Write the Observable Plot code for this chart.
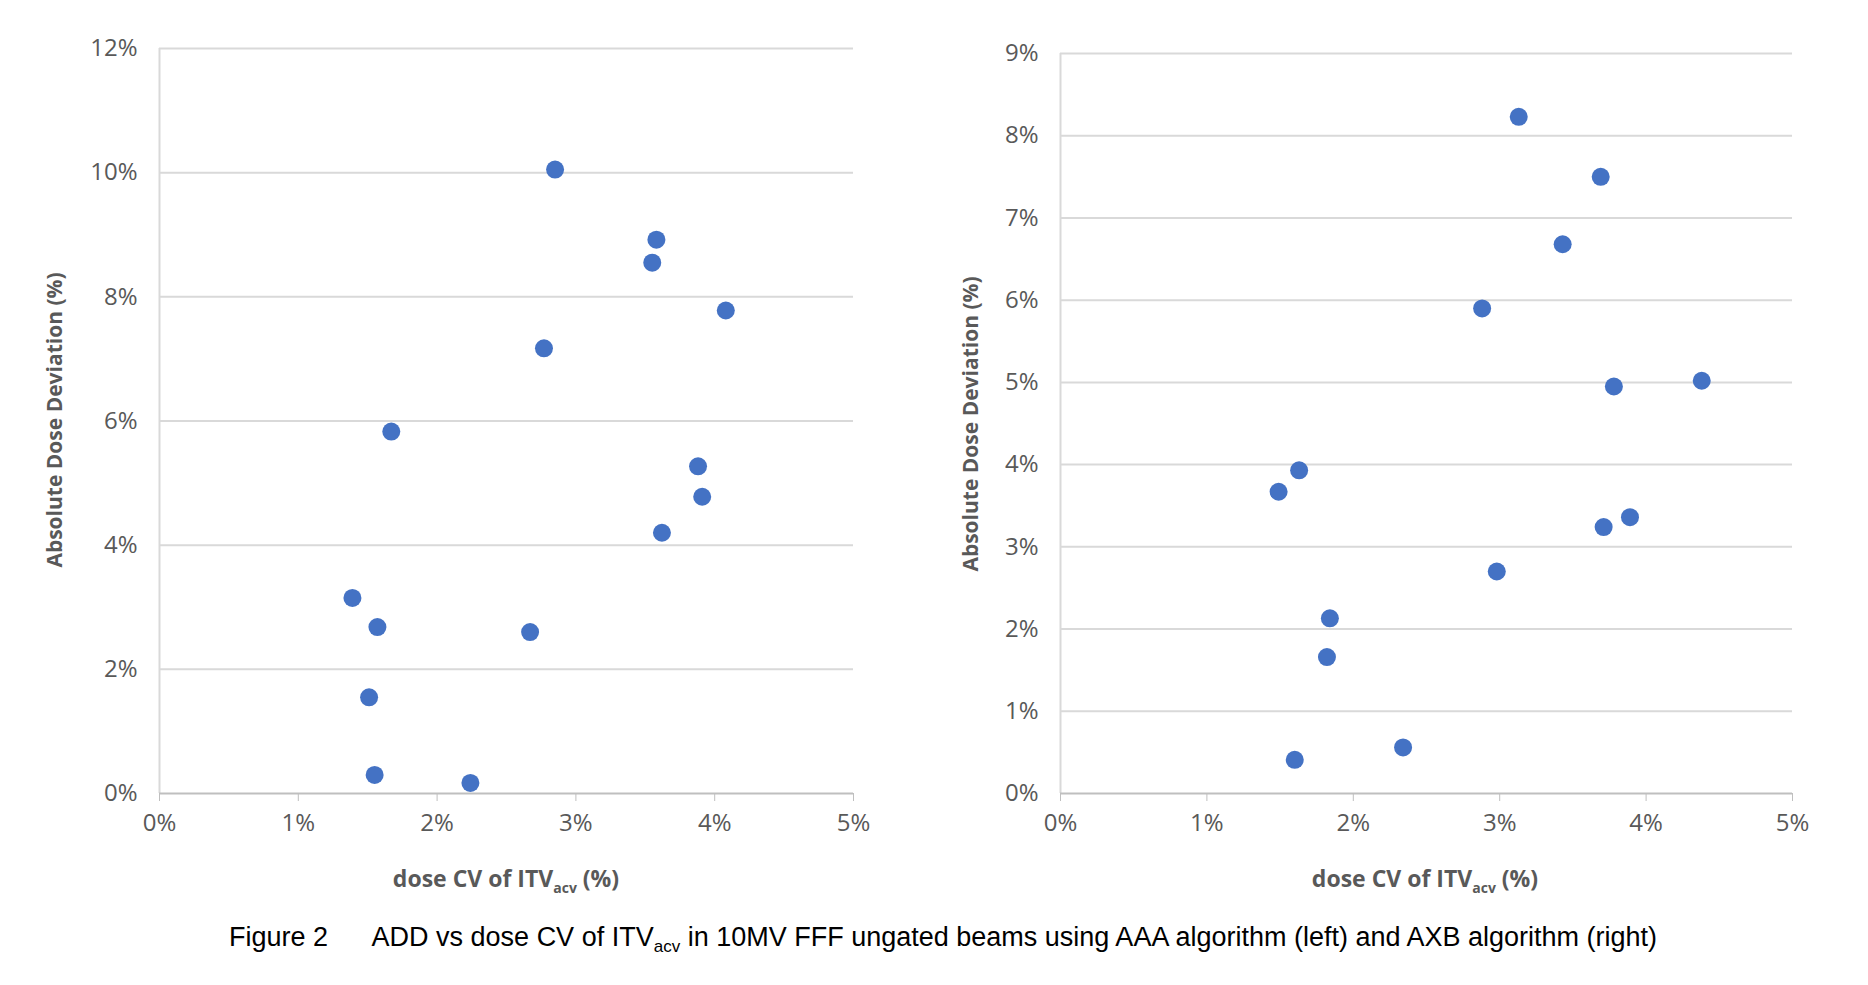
<!DOCTYPE html>
<html><head><meta charset="utf-8">
<script src="https://cdn.jsdelivr.net/npm/d3@7"></script>
<script src="https://cdn.jsdelivr.net/npm/@observablehq/plot@0.6"></script>
<style>
body{margin:0;background:#fff;width:1868px;height:985px;position:relative;overflow:hidden;font-family:"Liberation Sans",Arial,sans-serif}
.p{position:absolute;top:0}
.yl{position:absolute;font:bold 21px "Open Sans",sans-serif;color:#595959;transform:translate(-50%,-50%) rotate(-90deg);white-space:nowrap}
.xl{position:absolute;font:bold 23px "Open Sans",sans-serif;color:#595959;transform:translateX(-50%);white-space:nowrap}
.cap{position:absolute;font:27px "Liberation Sans",Arial,sans-serif;color:#000;white-space:pre}
</style></head><body>
<div id="L" class="p" style="left:0"></div>
<div id="R" class="p" style="left:900px"></div>
<div class="yl" style="left:54px;top:420px">Absolute Dose Deviation (%)</div>
<div class="yl" style="left:970px;top:424px">Absolute Dose Deviation (%)</div>
<div class="xl" style="left:506px;top:862px">dose CV of ITV<sub style="font-size:14px">acv</sub> (%)</div>
<div class="xl" style="left:1425px;top:862px">dose CV of ITV<sub style="font-size:14px">acv</sub> (%)</div>
<div class="cap" style="left:229px;top:922px">Figure 2      ADD vs dose CV of ITV<sub style="font-size:17px">acv</sub> in 10MV FFF ungated beams using AAA algorithm (left) and AXB algorithm (right)</div>
<script>
const leftX = [2.85,3.58,3.55,4.08,2.77,1.67,3.88,3.91,3.62,1.39,1.57,2.67,1.51,1.55,2.24];
const leftY = [10.05,8.92,8.55,7.78,7.17,5.83,5.27,4.78,4.2,3.15,2.68,2.6,1.55,0.3,0.17];
const rightX = [3.13,3.69,3.43,2.88,3.78,4.38,1.63,1.49,3.89,3.71,2.98,1.84,1.82,2.34,1.6];
const rightY = [8.23,7.5,6.68,5.9,4.95,5.02,3.93,3.67,3.36,3.24,2.7,2.13,1.66,0.56,0.41];
const xTicks = [0,1,2,3,4,5];
const leftYTicks = [0,2,4,6,8,10,12];
const rightYTicks = [0,1,2,3,4,5,6,7,8,9];
const pct = d => d + "%";

function make(xs, ys, yTicks, ymax, opts){
  const data = xs.map((x,i)=>({x, y: ys[i]}));
  return Plot.plot({
    width: opts.width, height: 900,
    marginLeft: opts.ml, marginRight: opts.mr, marginTop: opts.mt, marginBottom: 107,
    style:{fontSize:"24px", fontFamily:"'Open Sans',sans-serif", color:"#595959"},
    x:{domain:[0,5], label:null},
    y:{domain:[0,ymax], label:null},
    marks:[
      Plot.gridY(yTicks.filter(d=>d>0), {stroke:"#d9d9d9", strokeOpacity:1, strokeWidth:2}),
      Plot.ruleX([0], {stroke:"#d9d9d9", strokeWidth:2}),
      Plot.ruleY([0], {stroke:"#bfbfbf", strokeWidth:2}),
      Plot.axisX(xTicks, {tickFormat:pct, tickSize:8, stroke:"#bfbfbf", fill:"#595959", tickPadding:12, label:null}),
      Plot.axisY(yTicks, {tickFormat:pct, tickSize:0, tickPadding:22, fill:"#595959", label:null}),
      Plot.dot(data, {x:"x", y:"y", r:9, fill:"#4472C4", stroke:"none"})
    ]
  });
}
document.getElementById("L").append(make(leftX,leftY,leftYTicks,12,{width:900,ml:159,mr:47,mt:48}));
document.getElementById("R").append(make(rightX,rightY,rightYTicks,9,{width:968,ml:160,mr:76,mt:53}));
</script>
</body></html>
